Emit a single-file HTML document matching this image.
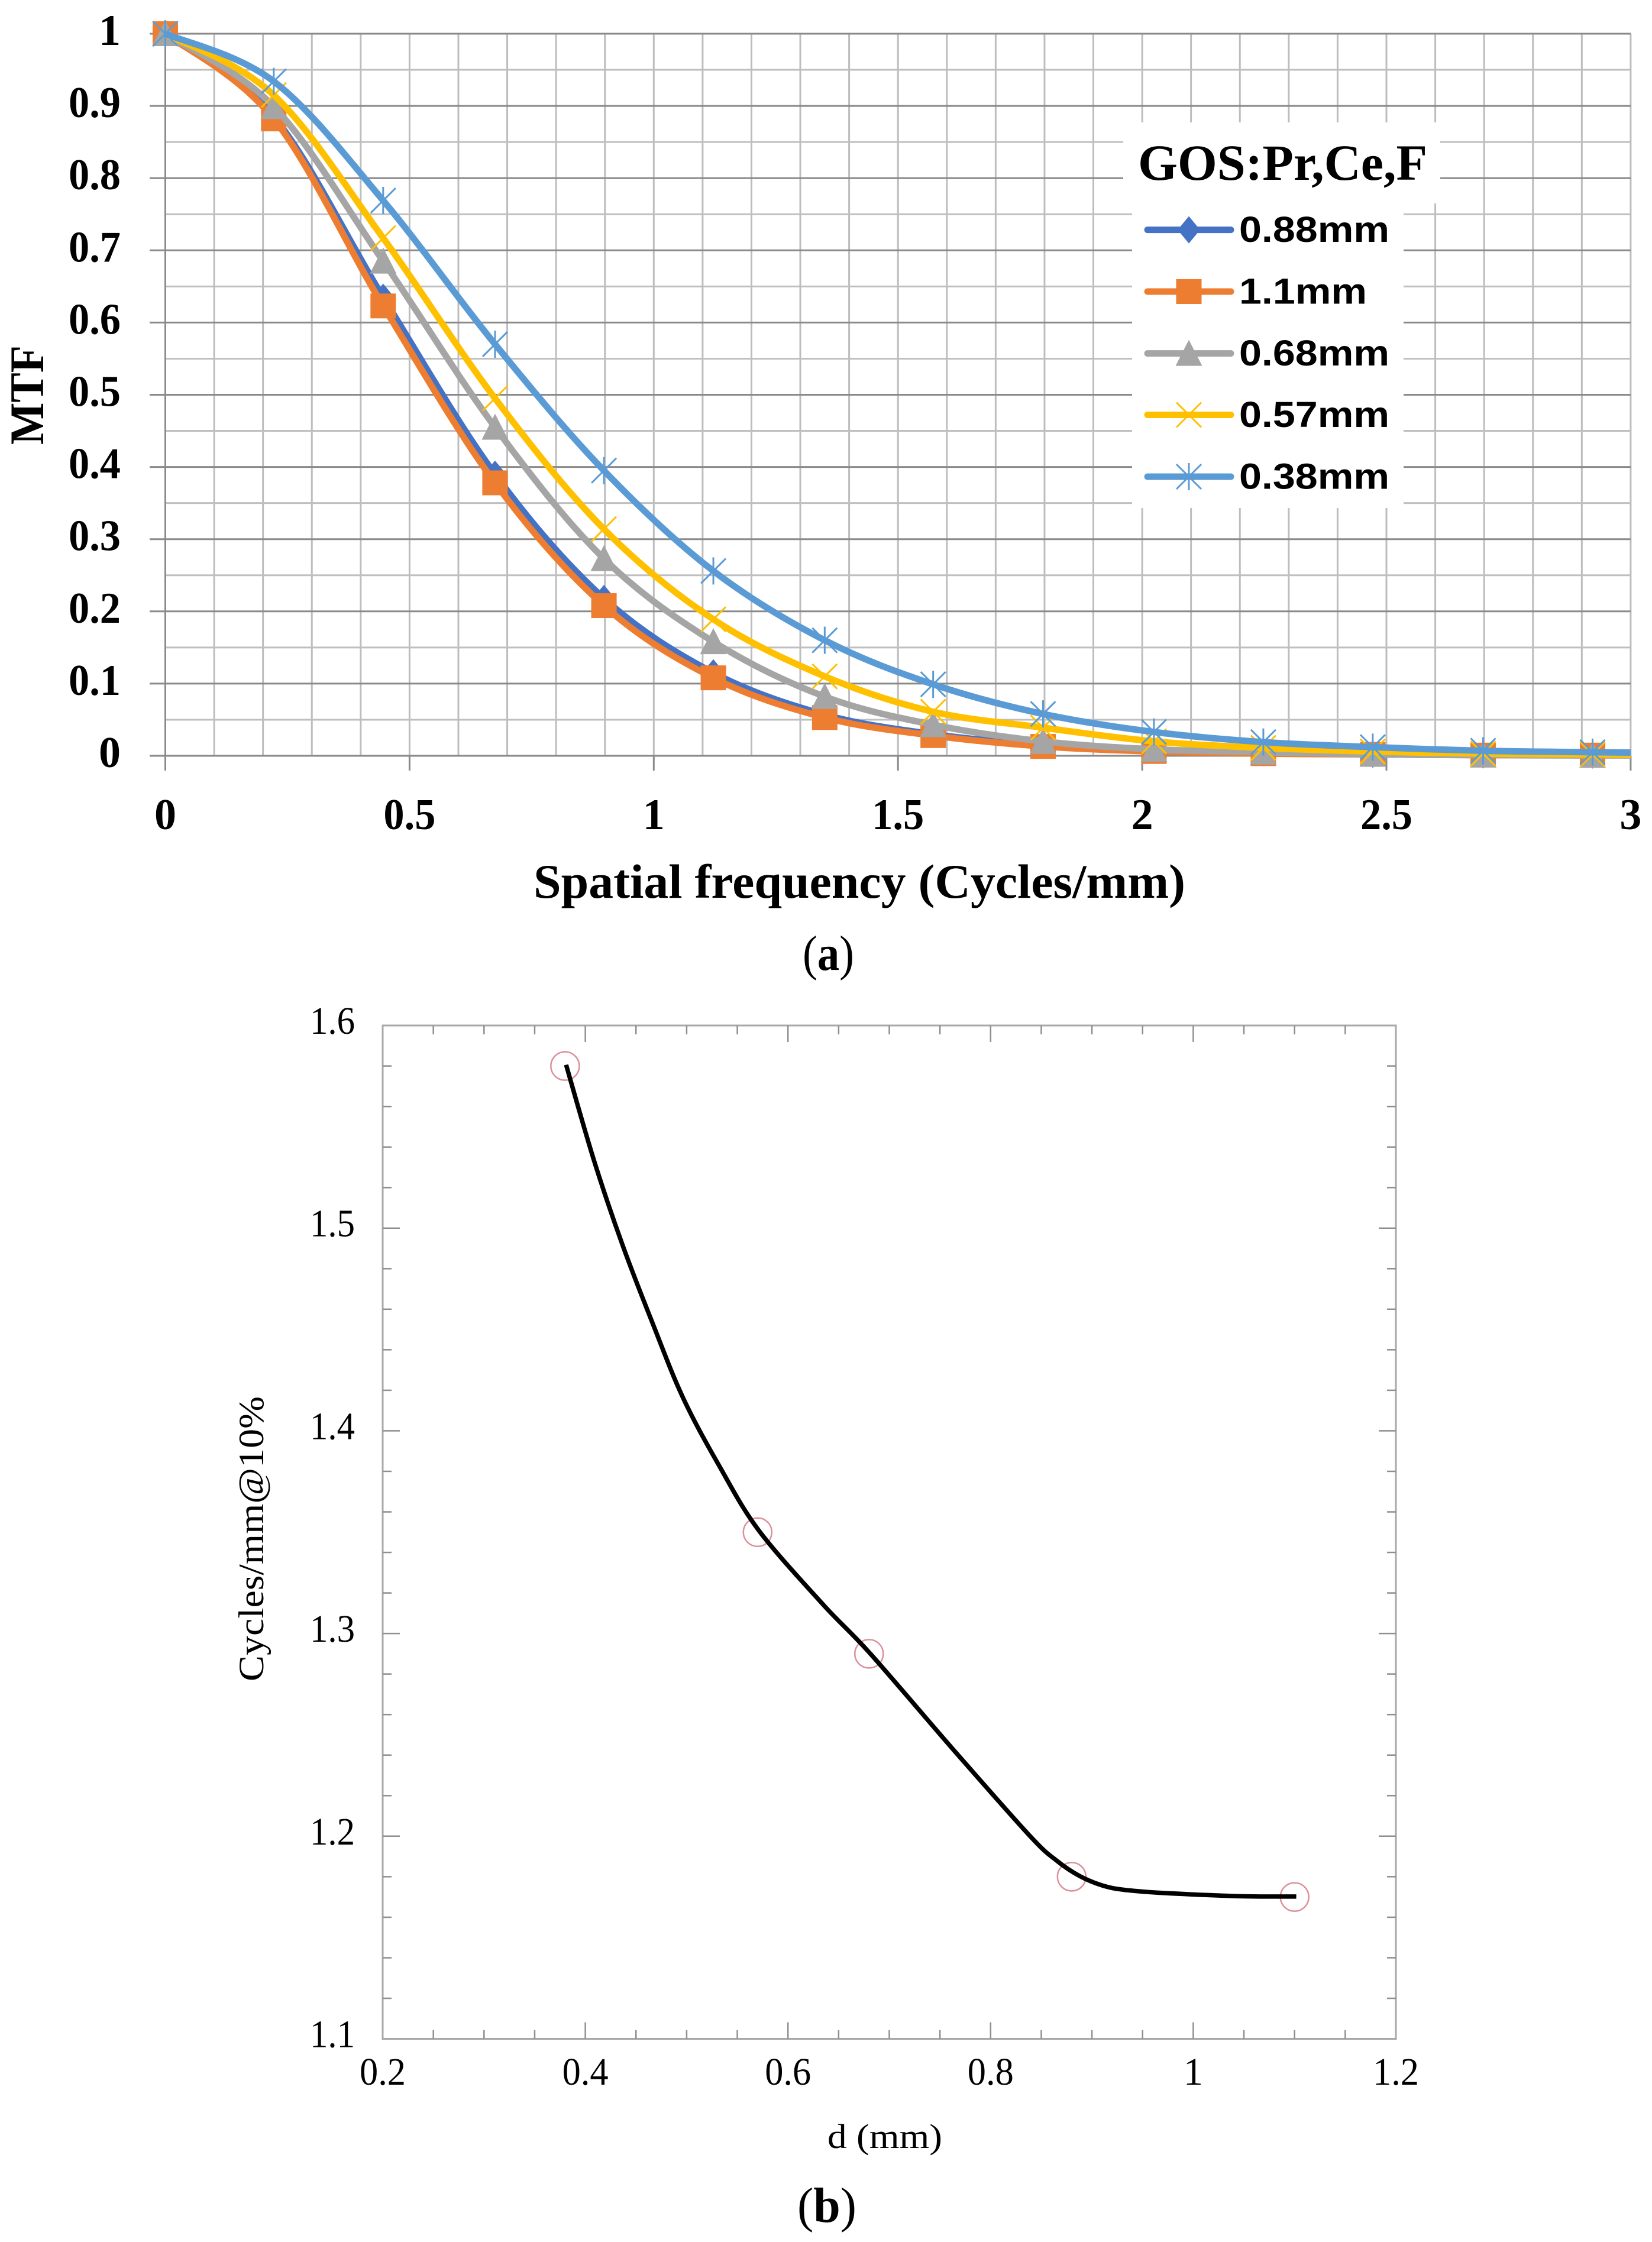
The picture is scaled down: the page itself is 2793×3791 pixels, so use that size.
<!DOCTYPE html>
<html lang="en">
<head>
<meta charset="utf-8">
<title>MTF and limiting resolution of GOS:Pr,Ce,F screens</title>
<style>
html,body{margin:0;padding:0;background:#fff;}
svg{display:block;}
text{font-family:"Liberation Serif",serif;fill:#000;}
</style>
</head>
<body>
<svg id="figure" xmlns="http://www.w3.org/2000/svg" width="2793" height="3791" viewBox="0 0 2793 3791">
  <rect x="0" y="0" width="2793" height="3791" fill="#ffffff"/>

  <g id="chart-a">
    <g id="a-grid"></g>
    <g id="a-ticks"></g>
    <g id="a-labels"></g>
    <g id="a-series"></g>
    <g id="a-legend">
      <rect x="1899" y="207" width="536" height="137" fill="#ffffff"/>
      <rect x="1914" y="344" width="459" height="515" fill="#ffffff"/>
      <text x="1924" y="304" font-size="86" font-weight="bold" textLength="489" lengthAdjust="spacingAndGlyphs">GOS:Pr,Ce,F</text>
    </g>
    <text transform="translate(73,752) rotate(-90)" font-size="82" font-weight="bold" textLength="168" lengthAdjust="spacingAndGlyphs">MTF</text>
    <text x="902" y="1518" font-size="82" font-weight="bold" textLength="1102" lengthAdjust="spacingAndGlyphs">Spatial frequency (Cycles/mm)</text>
    <text x="1357" y="1640" font-size="84" textLength="87" lengthAdjust="spacingAndGlyphs">(<tspan font-weight="bold">a</tspan>)</text>
  </g>

  <g id="chart-b">
    <g id="b-frame"></g>
    <g id="b-labels"></g>
    <g id="b-series"></g>
    <text transform="translate(445,2843) rotate(-90)" font-size="60" textLength="482" lengthAdjust="spacingAndGlyphs">Cycles/mm@10%</text>
    <text x="1399" y="3632" font-size="58" textLength="194" lengthAdjust="spacingAndGlyphs">d (mm)</text>
    <text x="1348" y="3757" font-size="84" textLength="100" lengthAdjust="spacingAndGlyphs">(<tspan font-weight="bold">b</tspan>)</text>
  </g>
</svg>

<script>
// ---------- Panel (a) data ----------
const freqs = [0, 0.222, 0.446, 0.675, 0.898, 1.122, 1.35, 1.572, 1.797, 2.024, 2.248, 2.472, 2.698, 2.922, 3];
const mtf088 = [1, 0.885, 0.635, 0.39, 0.218, 0.115, 0.057, 0.03, 0.015, 0.008, 0.004, 0.002, 0.001, 0.001, 0.001];
const mtf110 = [1, 0.882, 0.623, 0.378, 0.208, 0.108, 0.053, 0.028, 0.013, 0.006, 0.003, 0.002, 0.001, 0.001, 0.001];
const mtf068 = [1, 0.899, 0.685, 0.455, 0.273, 0.158, 0.082, 0.043, 0.02, 0.009, 0.005, 0.002, 0.001, 0.0005, 0.0005];
const mtf057 = [1, 0.915, 0.717, 0.495, 0.314, 0.189, 0.11, 0.061, 0.039, 0.02, 0.011, 0.006, 0.003, 0.002, 0.0015];
const mtf038 = [1, 0.934, 0.769, 0.57, 0.395, 0.256, 0.16, 0.099, 0.058, 0.033, 0.019, 0.012, 0.007, 0.005, 0.0045];
const seriesNames = ['0.88mm', '1.1mm', '0.68mm', '0.57mm', '0.38mm'];
const mtfTicksY = ['0', '0.1', '0.2', '0.3', '0.4', '0.5', '0.6', '0.7', '0.8', '0.9', '1'];
const mtfTicksX = ['0', '0.5', '1', '1.5', '2', '2.5', '3'];

// ---------- Panel (b) data ----------
const thickness = [0.38, 0.57, 0.68, 0.88, 1.1];
const cyclesAt10 = [1.58, 1.35, 1.29, 1.18, 1.17];
const curveD = [0.381, 0.4088, 0.437, 0.4668, 0.4966, 0.5323, 0.5713, 0.6345, 0.681, 0.7648, 0.8392, 0.8653, 0.8877, 0.9101, 0.9323, 0.9696, 1.0441, 1.1017];
const curveV = [1.5806, 1.533, 1.4913, 1.4526, 1.4161, 1.3826, 1.3508, 1.3144, 1.2902, 1.2418, 1.1999, 1.1879, 1.1804, 1.1757, 1.1735, 1.172, 1.1704, 1.1702];
const resTicksY = ['1.1', '1.2', '1.3', '1.4', '1.5', '1.6'];
const resTicksX = ['0.2', '0.4', '0.6', '0.8', '1', '1.2'];

// ---------- Axis functions ----------
function xA(v) { return 279.5 + v * 825.8; }
function yA(v) { return 1278 - v * 1221; }
function xB(v) { return 647 + (v - 0.2) * 1713; }
function yB(v) { return 3447.5 - (v - 1.1) * 3427; }

const NS = 'http://www.w3.org/2000/svg';
function mk(parent, tag, props) {
  const el = document.createElementNS(NS, tag);
  for (const k in props) el.setAttribute(k, props[k]);
  parent.appendChild(el);
  return el;
}
function hline(parent, x1, x2, y, color, w) {
  return mk(parent, 'line', { x1: x1, x2: x2, y1: y, y2: y, stroke: color, 'stroke-width': w });
}
function vline(parent, x, y1, y2, color, w) {
  return mk(parent, 'line', { x1: x, x2: x, y1: y1, y2: y2, stroke: color, 'stroke-width': w });
}
function smoothPath(pts) {
  let d = 'M' + pts[0][0].toFixed(1) + ' ' + pts[0][1].toFixed(1);
  for (let i = 0; i < pts.length - 1; i++) {
    const p0 = pts[Math.max(i - 1, 0)], p1 = pts[i], p2 = pts[i + 1], p3 = pts[Math.min(i + 2, pts.length - 1)];
    const c1x = p1[0] + (p2[0] - p0[0]) / 6, c1y = p1[1] + (p2[1] - p0[1]) / 6;
    const c2x = p2[0] - (p3[0] - p1[0]) / 6, c2y = p2[1] - (p3[1] - p1[1]) / 6;
    d += 'C' + c1x.toFixed(1) + ' ' + c1y.toFixed(1) + ' ' + c2x.toFixed(1) + ' ' + c2y.toFixed(1) + ' ' + p2[0].toFixed(1) + ' ' + p2[1].toFixed(1);
  }
  return d;
}
function drawMarker(parent, kind, cx, cy, color) {
  if (kind === 'diamond') {
    return mk(parent, 'polygon', { points: cx + ',' + (cy - 23) + ' ' + (cx + 19) + ',' + cy + ' ' + cx + ',' + (cy + 23) + ' ' + (cx - 19) + ',' + cy, fill: color });
  }
  if (kind === 'square') {
    return mk(parent, 'rect', { x: cx - 21.5, y: cy - 21, width: 43, height: 42, fill: color });
  }
  if (kind === 'triangle') {
    return mk(parent, 'polygon', { points: cx + ',' + (cy - 23) + ' ' + (cx + 22.5) + ',' + (cy + 21) + ' ' + (cx - 22.5) + ',' + (cy + 21), fill: color });
  }
  let d = 'M' + (cx - 21) + ' ' + (cy - 21) + 'L' + (cx + 21) + ' ' + (cy + 21) + 'M' + (cx + 21) + ' ' + (cy - 21) + 'L' + (cx - 21) + ' ' + (cy + 21);
  if (kind === 'star') d += 'M' + cx + ' ' + (cy - 23) + 'L' + cx + ' ' + (cy + 23);
  return mk(parent, 'path', { d: d, fill: 'none', stroke: color, 'stroke-width': 3 });
}

const seriesValues = [mtf088, mtf110, mtf068, mtf057, mtf038];
const seriesColors = ['#4472C4', '#ED7D31', '#A5A5A5', '#FFC000', '#5B9BD5'];
const seriesMarkers = ['diamond', 'square', 'triangle', 'cross', 'star'];
const markerCount = 14;

// ---------- Panel (a) grid ----------
const aGrid = document.getElementById('a-grid');
for (let i = 1; i <= 30; i++) {
  const v = i / 10;
  const gridV = vline(aGrid, xA(v), yA(1), yA(0), '#bdbdbd', 3);
  
  
}
for (let i = 0; i <= 20; i++) {
  const v = i / 20;
  const major = i % 2 === 0;
  const gridH = hline(aGrid, xA(0), xA(3), yA(v), major ? '#8a8a8a' : '#bfbfbf', 3);
  
  
}
const aAxis = vline(aGrid, xA(0), yA(1), yA(0), '#8a8a8a', 3);



// ---------- Panel (a) ticks and labels ----------
const aTicks = document.getElementById('a-ticks');
const aLabels = document.getElementById('a-labels');
mtfTicksY.forEach(function (label) {
  const v = parseFloat(label);
  const tick = hline(aTicks, 253, xA(0), yA(v), '#8a8a8a', 3);
  
  
  const t = mk(aLabels, 'text', { x: 204, y: yA(v) + 19, 'text-anchor': 'end', 'font-size': 74, 'font-weight': 'bold' });
  if (label.length > 1) { t.setAttribute('textLength', 88); t.setAttribute('lengthAdjust', 'spacingAndGlyphs'); }
  t.textContent = label;
  
  
});
mtfTicksX.forEach(function (label) {
  const v = parseFloat(label);
  const tick = vline(aTicks, xA(v), yA(0), 1303, '#8a8a8a', 3);
  
  
  const t = mk(aLabels, 'text', { x: xA(v), y: 1402, 'text-anchor': 'middle', 'font-size': 74, 'font-weight': 'bold' });
  if (label.length > 1) { t.setAttribute('textLength', 88); t.setAttribute('lengthAdjust', 'spacingAndGlyphs'); }
  t.textContent = label;
  
  
});

// ---------- Panel (a) series ----------
const aSeries = document.getElementById('a-series');
seriesValues.forEach(function (vals, s) {
  const g = mk(aSeries, 'g', {});
  
  
  const pts = vals.map(function (v, i) { return [xA(freqs[i]), yA(v)]; });
  const line = mk(g, 'path', { d: smoothPath(pts), fill: 'none', stroke: seriesColors[s], 'stroke-width': 11, 'stroke-linecap': 'butt', 'stroke-linejoin': 'round' });
  
  
  for (let i = 0; i < markerCount; i++) {
    const m = drawMarker(g, seriesMarkers[s], xA(freqs[i]), yA(vals[i]), seriesColors[s]);
    
    
  }
});

// ---------- Legend ----------
const legend = document.getElementById('a-legend');
const legendY = [388.6, 493, 597.6, 701.5, 806];
const legendW = [254, 216, 254, 254, 254];
seriesNames.forEach(function (name, s) {
  const entry = mk(legend, 'g', {});
  
  
  const swatch = mk(entry, 'line', { x1: 1940, x2: 2081, y1: legendY[s], y2: legendY[s], stroke: seriesColors[s], 'stroke-width': 11, 'stroke-linecap': 'round' });
  
  
  const mark = drawMarker(entry, seriesMarkers[s], 2010, legendY[s], seriesColors[s]);
  
  
  const label = mk(entry, 'text', { x: 2095, y: legendY[s] + 20.5, 'font-size': 61, 'font-weight': 'bold', textLength: legendW[s], lengthAdjust: 'spacingAndGlyphs', style: 'font-family:"Liberation Sans",sans-serif' });
  label.textContent = name;
  
  
});

// ---------- Panel (b) frame, ticks, labels ----------
const bFrame = document.getElementById('b-frame');
const bLabels = document.getElementById('b-labels');
const box = mk(bFrame, 'rect', { x: xB(0.2), y: yB(1.6), width: xB(1.2) - xB(0.2), height: yB(1.1) - yB(1.6), fill: 'none', stroke: '#a8a8a8', 'stroke-width': 3 });


for (let i = 1; i < 25; i++) {
  const v = 1.1 + i * 0.02;
  const len = i % 5 === 0 ? 29 : 15;
  const tl = hline(bFrame, xB(0.2), xB(0.2) + len, yB(v), '#8f8f8f', 2.5);
  
  
  const tr = hline(bFrame, xB(1.2) - len, xB(1.2), yB(v), '#8f8f8f', 2.5);
  
  
}
for (let i = 1; i < 20; i++) {
  const v = 0.2 + i * 0.05;
  const len = i % 4 === 0 ? 28 : 15;
  const tb = vline(bFrame, xB(v), yB(1.1) - len, yB(1.1), '#8f8f8f', 2.5);
  
  
  const tt = vline(bFrame, xB(v), yB(1.6), yB(1.6) + len, '#8f8f8f', 2.5);
  
  
}
resTicksY.forEach(function (label) {
  const t = mk(bLabels, 'text', { x: 600, y: yB(parseFloat(label)) + 14, 'text-anchor': 'end', 'font-size': 66, textLength: 76, lengthAdjust: 'spacingAndGlyphs', fill: '#1a1a1a' });
  t.textContent = label;
  
  
});
resTicksX.forEach(function (label) {
  const t = mk(bLabels, 'text', { x: xB(parseFloat(label)), y: 3525, 'text-anchor': 'middle', 'font-size': 66, fill: '#1a1a1a' });
  if (label.length > 1) { t.setAttribute('textLength', 78); t.setAttribute('lengthAdjust', 'spacingAndGlyphs'); }
  t.textContent = label;
  
  
});

// ---------- Panel (b) series ----------
const bSeries = document.getElementById('b-series');
thickness.forEach(function (d, i) {
  const c = mk(bSeries, 'circle', { cx: xB(d), cy: yB(cyclesAt10[i]), r: 24, fill: 'none', stroke: '#dc8f99', 'stroke-width': 2.5 });
  
  
});
const curvePts = curveD.map(function (d, i) { return [xB(d), yB(curveV[i])]; });
const curve = mk(bSeries, 'path', { d: smoothPath(curvePts), fill: 'none', stroke: '#000000', 'stroke-width': 7.5 });


</script>
</body>
</html>
